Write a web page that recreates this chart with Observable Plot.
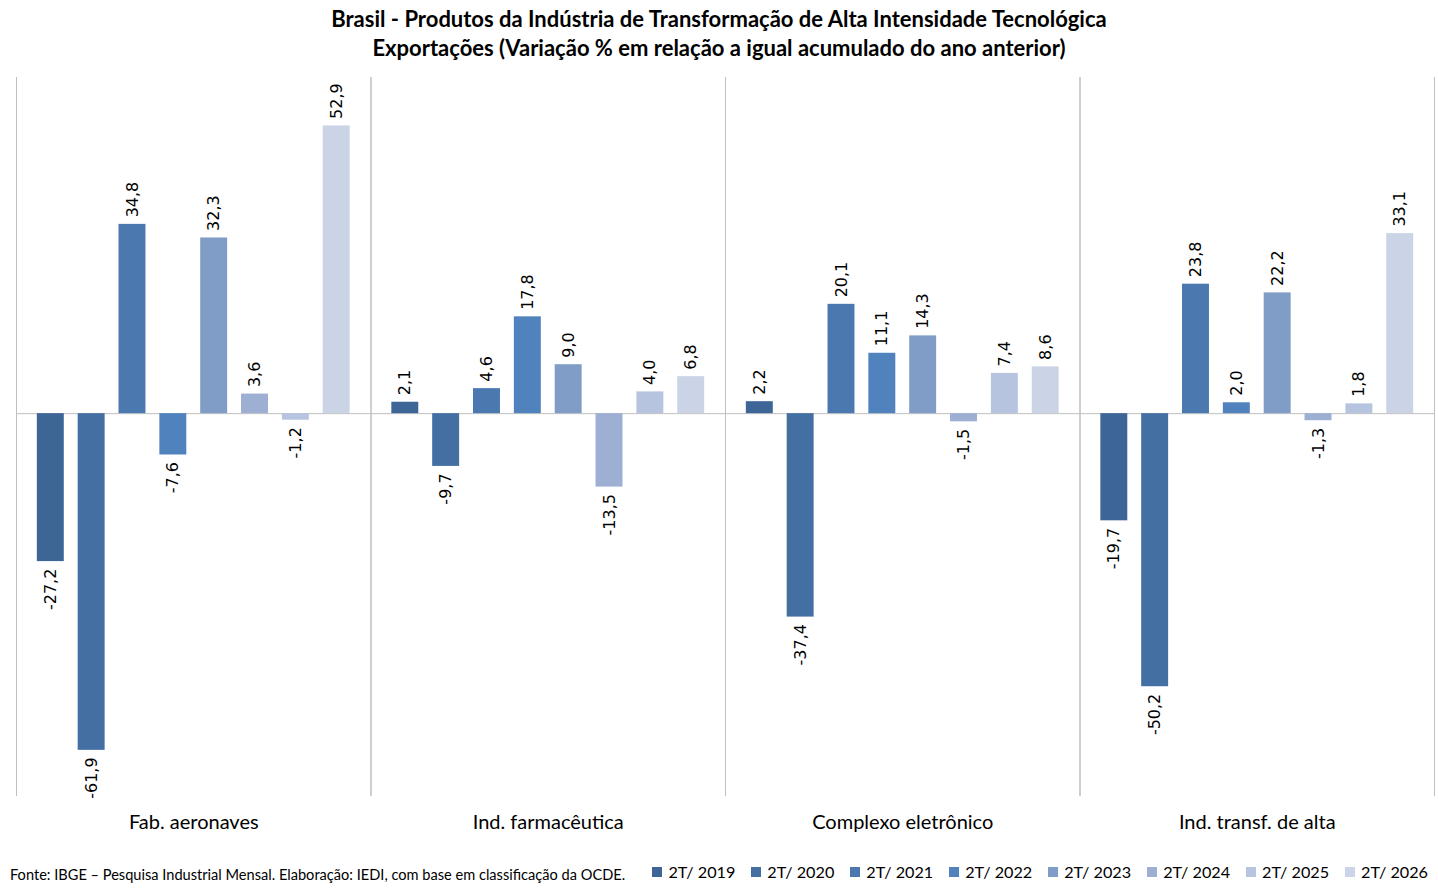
<!DOCTYPE html>
<html><head><meta charset="utf-8">
<script src="https://cdn.jsdelivr.net/npm/d3@7"></script>
<script src="https://cdn.jsdelivr.net/npm/@observablehq/plot@0.6"></script>
<style>
body{margin:0;background:#fff;font-family:Lato,"Open Sans",sans-serif;}
#title{height:65px;text-align:center;font-weight:bold;font-size:22px;line-height:29px;padding-top:4px;box-sizing:border-box;color:#000;}
#foot{display:flex;justify-content:space-between;align-items:center;height:45px;padding:8px 10px 0 10px;box-sizing:border-box;}
#src{font-size:14.6px;color:#000;margin-top:6px;}
#leg{display:flex;gap:0;font-size:16.2px;color:#000;}
#leg span.it{display:flex;align-items:center;margin-left:16px;}
#leg span.sw{display:inline-block;width:10px;height:10px;margin-right:6px;}
</style></head><body>
<div id="title">Brasil - Produtos da Indústria de Transformação de Alta Intensidade Tecnológica<br>Exportações (Variação % em relação a igual acumulado do ano anterior)</div>
<div id="chart"></div>
<div id="foot"><div id="src">Fonte: IBGE – Pesquisa Industrial Mensal. Elaboração: IEDI, com base em classificação da OCDE.</div><div id="leg"></div></div>
<script>
const categories = ["Fab. aeronaves", "Ind. farmacêutica", "Complexo eletrônico", "Ind. transf. de alta"];
const periods = ["2T/ 2019", "2T/ 2020", "2T/ 2021", "2T/ 2022", "2T/ 2023", "2T/ 2024", "2T/ 2025", "2T/ 2026"];
const colors = ["#3d6596", "#446fa3", "#4a78af", "#5082be", "#809dc7", "#9db0d3", "#b7c4df", "#cbd4e6"];
const aeronaves = [-27.2, -61.9, 34.8, -7.6, 32.3, 3.6, -1.2, 52.9];
const farmaceutica = [2.1, -9.7, 4.6, 17.8, 9.0, -13.5, 4.0, 6.8];
const eletronico = [2.2, -37.4, 20.1, 11.1, 14.3, -1.5, 7.4, 8.6];
const transfAlta = [-19.7, -50.2, 23.8, 2.0, 22.2, -1.3, 1.8, 33.1];
const series = [aeronaves, farmaceutica, eletronico, transfAlta];

const data = [];
categories.forEach((c, i) => periods.forEach((p, j) => data.push({cat: c, period: p, value: series[i][j]})));
const fmt = v => v.toFixed(1).replace(".", ",");

const chart = Plot.plot({
  width: 1438,
  height: 780,
  marginTop: 12,
  marginBottom: 50,
  marginLeft: 16,
  marginRight: 4,
  fx: {domain: categories, padding: 0, label: null, round: false},
  x: {domain: periods, paddingInner: 0.34, paddingOuter: 0.51, axis: null, round: false},
  y: {domain: [-70.2, 61.8], axis: null},
  color: {domain: periods, range: colors},
  style: {fontFamily: "Lato, 'Open Sans', sans-serif"},
  marks: [
    Plot.frame({anchor: "left", stroke: "#bfbfbf"}),
    Plot.frame({anchor: "right", stroke: "#bfbfbf"}),
    Plot.ruleY([0], {stroke: "#bfbfbf"}),
    Plot.barY(data, {fx: "cat", x: "period", y: "value", fill: "period"}),
    Plot.text(data.filter(d => d.value >= 0), {fx: "cat", x: "period", y: "value", text: d => fmt(d.value), rotate: -90, textAnchor: "start", dy: -7, fontSize: 16, fontFamily: "DejaVu Sans", fill: "#000"}),
    Plot.text(data.filter(d => d.value < 0), {fx: "cat", x: "period", y: "value", text: d => fmt(d.value), rotate: -90, textAnchor: "end", dy: 7, fontSize: 16, fontFamily: "DejaVu Sans", fill: "#000"}),
    Plot.axisFx({anchor: "bottom", tickSize: 0, tickPadding: 19, fontSize: 20, label: null})
  ]
});
document.getElementById("chart").appendChild(chart);

const leg = document.getElementById("leg");
periods.forEach((p, i) => {
  const it = document.createElement("span");
  it.className = "it";
  it.innerHTML = `<span class="sw" style="background:${colors[i]}"></span>${p}`;
  leg.appendChild(it);
});
</script>
</body></html>
